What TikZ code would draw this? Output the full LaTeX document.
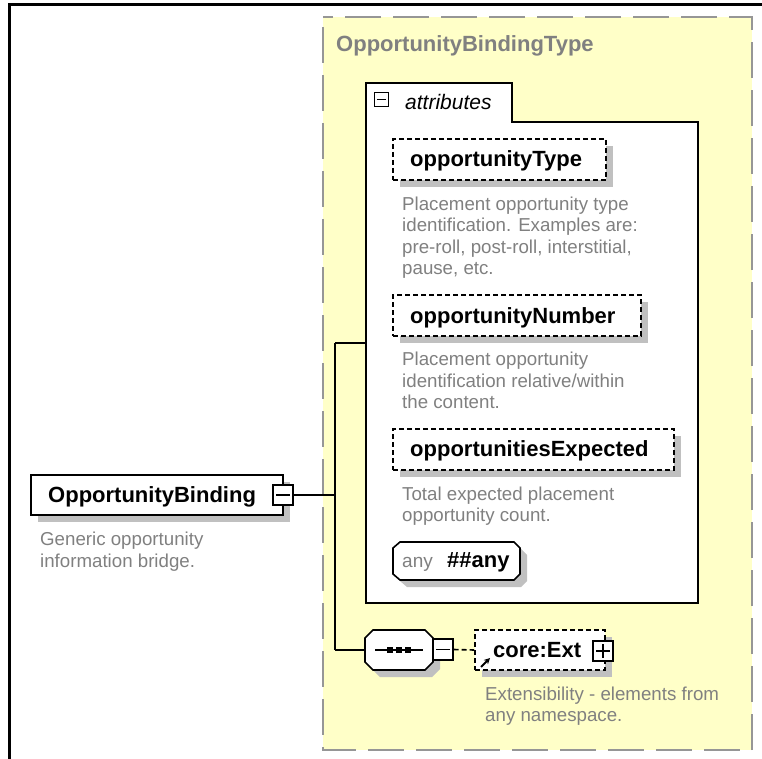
\documentclass[tikz,border=0pt]{standalone}
\usepackage{fontspec}
\setmainfont{Liberation Sans}
\usetikzlibrary{shadows,arrows.meta}
\definecolor{yel}{RGB}{255,255,200}
\definecolor{bord}{RGB}{150,150,150}
\definecolor{sgray}{RGB}{192,192,192}
\definecolor{tgray}{RGB}{128,128,128}
\begin{document}
\begin{tikzpicture}[x=1pt,y=-1pt,
  shad/.style={general shadow={fill=sgray,draw=none,shadow xshift=7pt,shadow yshift=-7pt}},
  elembox/.style={draw=black,fill=white,line width=1.6pt,inner sep=0pt,shad},
  optbox/.style={elembox,dash pattern=on 5pt off 3pt},
  icon/.style={draw=black,fill=white,line width=1.4pt,inner sep=0pt,minimum width=20pt,minimum height=20pt},
  lbl/.style={font=\fontsize{22}{26}\selectfont\bfseries,inner sep=0pt,anchor=base west},
  desc/.style={font=\fontsize{18.7}{21.5}\selectfont,text=tgray,align=left,inner sep=0pt,anchor=north west},
  conn/.style={draw=black,line width=1.6pt}
]
\useasboundingbox (0,0) rectangle (762,759);
% outer frame
\draw[line width=3pt] (8,5) -- (762,5);
\draw[line width=3pt] (9.5,5) -- (9.5,759);
% complex type box
\draw[fill=yel,draw=bord,line width=2.4pt,dash pattern=on 36pt off 12pt,dash phase=-10pt] (323,17) rectangle (752,750);
\node[lbl,text=tgray] (ttl) at (336,52) {OpportunityBindingType};
% attributes box
\draw[fill=white,draw=black,line width=2pt] (366,83) -- (512,83) -- (512,122) -- (698,122) -- (698,603) -- (366,603) -- cycle;
\coordinate (attrW) at (366,343);
\node[icon,minimum width=14pt,minimum height=14pt,line width=1.3pt] (amin) at (381.5,99.5) {};
\draw[line width=1.3pt] ([xshift=3pt]amin.west) -- ([xshift=-3pt]amin.east);
\node[font=\fontsize{21}{24}\selectfont\itshape,inner sep=0pt,anchor=base west] (attl) at (405,110) {attributes};
% attributes
\node[optbox,minimum width=213pt,minimum height=41pt] (ot) at (499.5,159.5) {};
\node[lbl] (otl) at (410,167) {opportunityType};
\node[desc] (otd) at (402,196.5) {Placement opportunity type\\identification. Examples are:\\pre-roll, post-roll, interstitial,\\pause, etc.};
\node[optbox,minimum width=248pt,minimum height=41pt] (on) at (517,315.5) {};
\node[lbl] (onl) at (410,323) {opportunityNumber};
\node[desc] (ond) at (402,352) {Placement opportunity\\identification relative/within\\the content.};
\node[optbox,minimum width=281pt,minimum height=41pt] (oe) at (533.5,449.5) {};
\node[lbl] (oel) at (410,456) {opportunitiesExpected};
\node[desc] (oed) at (402,486.5) {Total expected placement\\opportunity count.};
% any
\draw[fill=sgray,draw=none] (407,549) -- (521,549) -- (527,555) -- (527,581) -- (521,587) -- (407,587) -- (400,581) -- (400,555) -- cycle;
\draw[fill=white,draw=black,line width=1.6pt] (400,542) -- (514,542) -- (520,548) -- (520,574) -- (514,580) -- (400,580) -- (393,574) -- (393,548) -- cycle;
\node[inner sep=0pt,minimum width=127pt,minimum height=38pt] (any) at (456.5,561) {};
\node[font=\fontsize{19}{22}\selectfont,text=tgray,inner sep=0pt,anchor=base west] (anyl) at (402,567) {any};
\node[lbl] (anyv) at (447,567) {\#\#any};
% element
\node[elembox,minimum width=252pt,minimum height=40pt] (ob) at (157,495) {};
\node[lbl] (obl) at (48,502) {OpportunityBinding};
\node[icon] (obmin) at (283,495) {};
\draw[line width=1.4pt] ([xshift=4pt]obmin.west) -- ([xshift=-4pt]obmin.east);
\node[desc] (obd) at (40,532) {Generic opportunity\\information bridge.};
% sequence
\draw[fill=sgray,draw=none] (380,637) -- (432,637) -- (440,645) -- (440,669) -- (432,677) -- (380,677) -- (372,669) -- (372,645) -- cycle;
\draw[fill=white,draw=black,line width=1.6pt] (373,630) -- (425,630) -- (433,638) -- (433,662) -- (425,670) -- (373,670) -- (365,662) -- (365,638) -- cycle;
\node[inner sep=0pt,minimum width=68pt,minimum height=40pt] (seq) at (399,650) {};
\draw[line width=1.4pt] (375,650) -- (423,650);
\foreach \px in {390,399,408} \fill (\px-3,647) rectangle (\px+3,653);
\node[icon,minimum width=20pt,minimum height=21pt] (sqmin) at (443,649.5) {};
\draw[line width=1.4pt] ([xshift=4pt]sqmin.west) -- ([xshift=-4pt]sqmin.east);
% core:Ext
\node[optbox,minimum width=130pt,minimum height=40pt] (ce) at (540,650) {};
\node[lbl] (cel) at (493,657) {core:Ext};
\node[icon] (ceplus) at (603,651) {};
\draw[line width=1.4pt] ([xshift=4pt]ceplus.west) -- ([xshift=-4pt]ceplus.east);
\draw[line width=1.4pt] ([yshift=-4pt]ceplus.north) -- ([yshift=4pt]ceplus.south);
\draw[line width=2pt,-{Stealth[length=6pt,width=6pt]}] (481,667) -- (490,658);
\node[desc] (ced) at (485,686.5) {Extensibility - elements from\\any namespace.};
% connectors
\coordinate (jA) at (335,495);
\coordinate (jT) at (335,343);
\coordinate (jB) at (335,650);
\draw[conn] (obmin.east) -- (jA);
\draw[conn] (jT) -- (jB);
\draw[conn] (jT) -- (attrW);
\draw[conn] (jB) -- (seq.west);
\draw[conn,dash pattern=on 5pt off 3pt] (sqmin.east) -- (ce.west);
\end{tikzpicture}
\end{document}
